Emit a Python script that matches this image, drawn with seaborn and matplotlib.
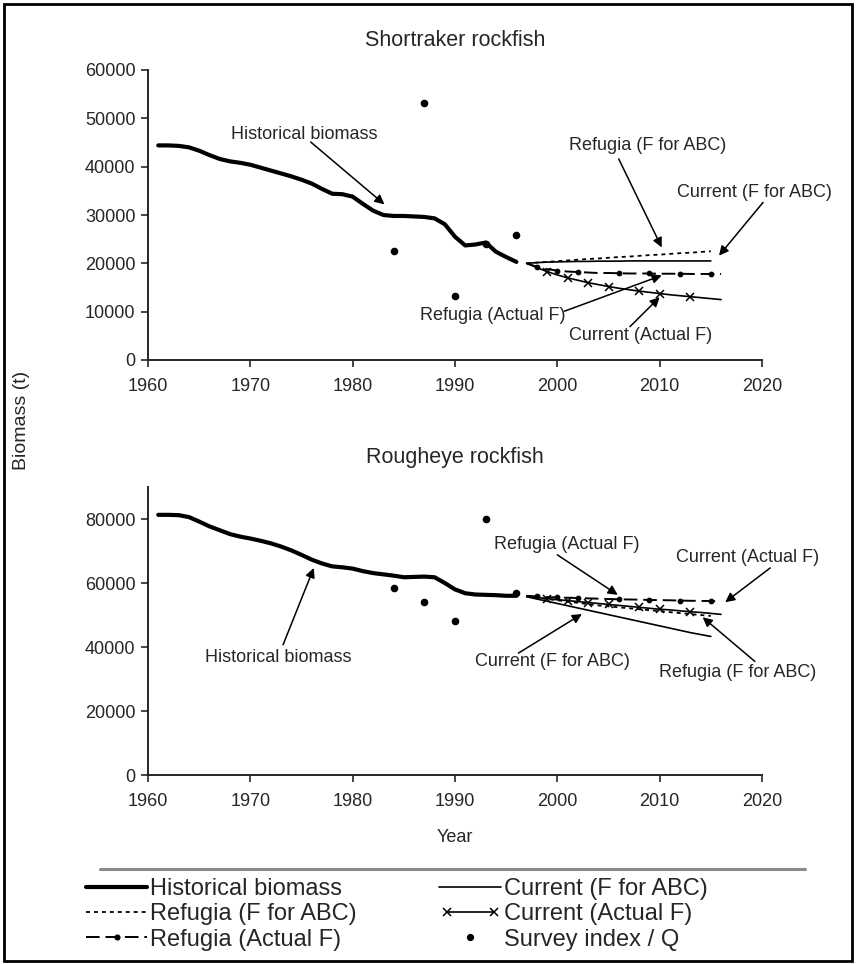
import matplotlib
matplotlib.use("Agg")
import matplotlib.pyplot as plt
import numpy as np
import pandas as pd
import seaborn as sns
from matplotlib.lines import Line2D
from matplotlib.patches import Rectangle
from matplotlib.ticker import FuncFormatter
from matplotlib.legend_handler import HandlerLine2D

# ---------------- data ----------------
hist_years = list(range(1961, 1997))
st_hist = [44400, 44400, 44300, 44000, 43300, 42400, 41600, 41100, 40800, 40400,
           39800, 39200, 38600, 38000, 37300, 36500, 35400, 34400, 34300, 33800,
           32300, 30900, 30000, 29800, 29800, 29700, 29600, 29300, 28100, 25500,
           23700, 23900, 24300, 22400, 21300, 20300]
re_hist = [81300, 81300, 81200, 80600, 79200, 77700, 76500, 75300, 74500, 73900,
           73200, 72400, 71400, 70200, 68800, 67300, 66100, 65200, 64900, 64500,
           63700, 63100, 62700, 62300, 61800, 61900, 62000, 61800, 60000, 58000,
           56800, 56400, 56300, 56200, 56000, 56000]

survey_years = [1984, 1987, 1990, 1993, 1996]
st_survey = [22500, 53200, 13300, 24100, 25800]
re_survey = [58300, 54200, 48200, 80100, 56800]

proj_years_long = list(range(1997, 2017))   # Actual F projections
proj_years_short = list(range(1997, 2016))  # F for ABC projections

st_ref_abc = [20000, 20150, 20300, 20450, 20600, 20750, 20900, 21000, 21150, 21300,
              21400, 21550, 21700, 21800, 21950, 22100, 22200, 22350, 22500]
st_cur_abc = [20000, 20150, 20250, 20300, 20350, 20400, 20400, 20450, 20450, 20450,
              20500, 20500, 20500, 20500, 20500, 20500, 20500, 20500, 20500]
st_ref_act = [20000, 19300, 18800, 18500, 18300, 18200, 18100, 18000, 18000, 17950,
              17900, 17900, 17900, 17850, 17850, 17850, 17800, 17800, 17800, 17800]
st_cur_act = [20000, 19100, 18300, 17600, 17000, 16500, 16000, 15600, 15200, 14850,
              14550, 14250, 14000, 13750, 13500, 13300, 13100, 12900, 12700, 12500]

re_ref_act = [56000, 55800, 55600, 55500, 55400, 55300, 55200, 55100, 55000, 54900,
              54850, 54800, 54700, 54650, 54600, 54500, 54450, 54400, 54350, 54300]
re_cur_act = [55900, 55500, 55100, 54800, 54500, 54200, 53900, 53600, 53300, 53000,
              52700, 52400, 52100, 51800, 51600, 51300, 51000, 50800, 50500, 50200]
re_ref_abc = [55800, 55400, 55000, 54600, 54200, 53800, 53400, 53000, 52700, 52400,
              52100, 51800, 51500, 51200, 50900, 50600, 50300, 50000, 49700]
re_cur_abc = [55700, 55000, 54300, 53600, 52900, 52200, 51500, 50800, 50100, 49400,
              48700, 48000, 47300, 46600, 45900, 45200, 44500, 43900, 43300]

x_ticks = [1960, 1970, 1980, 1990, 2000, 2010, 2020]
st_yticks = [0, 10000, 20000, 30000, 40000, 50000, 60000]
re_yticks = [0, 20000, 40000, 60000, 80000]

labels = ["Historical biomass", "Refugia (F for ABC)", "Refugia (Actual F)",
          "Current (F for ABC)", "Current (Actual F)", "Survey index / Q"]

# annotations: (text, text_xy, arrow_start, arrow_tip)
st_notes = [
    ("Historical biomass", (1975.3, 46700), (1975.9, 45100), (1983.1, 32200)),
    ("Refugia (F for ABC)", (2008.8, 44400), (2006.0, 41600), (2010.2, 23300)),
    ("Current (F for ABC)", (2019.3, 34700), (2020.1, 32600), (2015.8, 21600)),
    ("Refugia (Actual F)", (1993.7, 9200), (2000.7, 10100), (2010.2, 17500)),
    ("Current (Actual F)", (2008.1, 5100), (2007.1, 6900), (2010.0, 13000)),
]
re_notes = [
    ("Historical biomass", (1972.7, 36800), (1973.2, 40700), (1976.2, 64700)),
    ("Refugia (Actual F)", (2000.9, 71900), (2000.0, 68800), (2005.9, 56300)),
    ("Current (Actual F)", (2018.6, 68100), (2020.8, 64700), (2016.4, 54000)),
    ("Current (F for ABC)", (1999.5, 35400), (1996.2, 38100), (2002.4, 50300)),
    ("Refugia (F for ABC)", (2017.6, 32000), (2019.3, 35500), (2014.2, 49300)),
]

# ---------------- style ----------------
sns.set_theme(style="ticks")
plt.rcParams["font.family"] = ["Liberation Sans", "DejaVu Sans"]
plt.rcParams["axes.linewidth"] = 1.4

W, H = 856, 964
fig = plt.figure(figsize=(W / 100, H / 100), dpi=100)


def fx(px):
    return px / W


def fy(py):
    return 1 - py / H


ax_left, ax_right = 148, 762
ax1 = fig.add_axes([fx(ax_left), fy(360), fx(ax_right - ax_left), (360 - 70) / H])
ax2 = fig.add_axes([fx(ax_left), fy(775), fx(ax_right - ax_left), (775 - 487) / H])

x_marks = [2, 4, 6, 8, 11, 13, 16]
dot_marks = [1, 3, 5, 9, 12, 15, 18]
mk = dict(markeredgecolor="black", markerfacecolor="black")
styles = {
    "hist": dict(color="black", linewidth=3.0, linestyle="-", marker="None"),
    "ref_abc": dict(color="black", linewidth=1.3, linestyle=(0, (2.2, 2.2)), marker="None"),
    "ref_act": dict(color="black", linewidth=1.4, linestyle=(0, (7, 3)),
                    marker="o", markersize=3.4, markevery=dot_marks, **mk),
    "cur_abc": dict(color="black", linewidth=1.2, linestyle="-", marker="None"),
    "cur_act": dict(color="black", linewidth=1.2, linestyle="-", marker="x",
                    markersize=5.5, markeredgewidth=1.1, markevery=x_marks, **mk),
}


def sline(ax, x, y, style):
    n = len(ax.lines)
    sns.lineplot(x=x, y=y, ax=ax, estimator=None, sort=False, color="black")
    for ln in list(ax.lines)[n:]:
        ln.set(**style)


def draw_panel(ax, hist, survey, ref_abc, cur_abc, ref_act, cur_act, yticks, ylim, notes, title):
    sline(ax, hist_years, hist, styles["hist"])
    sline(ax, proj_years_short, ref_abc, styles["ref_abc"])
    sline(ax, proj_years_short, cur_abc, styles["cur_abc"])
    sline(ax, proj_years_long, ref_act, styles["ref_act"])
    sline(ax, proj_years_long, cur_act, styles["cur_act"])
    sns.scatterplot(x=survey_years, y=survey, ax=ax, color="black", s=30, edgecolor="black",
                    linewidth=0, zorder=5)
    ax.set_xlim(1960, 2020)
    ax.set_ylim(*ylim)
    ax.set_xticks(x_ticks)
    ax.set_yticks(yticks)
    ax.yaxis.set_major_formatter(FuncFormatter(lambda v, p: f"{int(v)}"))
    ax.tick_params(axis="both", labelsize=13, length=5, width=1.2, direction="out")
    ax.tick_params(axis="x", pad=8)
    ax.tick_params(axis="y", pad=4)
    sns.despine(ax=ax)
    ax.set_xlabel("")
    ax.set_ylabel("")
    ax.set_title(title, fontsize=15.5, pad=17)
    for txt, txy, start, tip in notes:
        ax.text(txy[0], txy[1], txt, ha="center", va="center", fontsize=13, clip_on=False)
        ax.annotate("", xy=tip, xytext=start, annotation_clip=False,
                    arrowprops=dict(arrowstyle="-|>", color="black", lw=1.1,
                                    mutation_scale=14, shrinkA=0, shrinkB=0))


draw_panel(ax1, st_hist, st_survey, st_ref_abc, st_cur_abc, st_ref_act, st_cur_act,
           st_yticks, (0, 60000), st_notes, "Shortraker rockfish")
draw_panel(ax2, re_hist, re_survey, re_ref_abc, re_cur_abc, re_ref_act, re_cur_act,
           re_yticks, (0, 90000), re_notes, "Rougheye rockfish")
ax2.set_xlabel("Year", fontsize=13, labelpad=14)

fig.text(fx(22), fy(420), "Biomass (t)", rotation=90, ha="center", va="center", fontsize=14)

# legend
h_hist = Line2D([], [], color="black", linewidth=3.0)
h_ref_abc = Line2D([], [], color="black", linewidth=1.3, linestyle=(0, (2.2, 2.2)))
h_ref_act = Line2D([], [], color="black", linewidth=1.4, linestyle=(0, (7, 3)),
                   marker="o", markersize=3.4, **mk)
h_cur_abc = Line2D([], [], color="black", linewidth=1.2)
h_cur_act = Line2D([], [], color="black", linewidth=1.2, marker="x", markersize=5.5,
                   markeredgewidth=1.1, **mk)
h_survey = Line2D([], [], color="black", linestyle="none", marker="o", markersize=4.2, **mk)
handles = [h_hist, h_ref_abc, h_ref_act, h_cur_abc, h_cur_act, h_survey]
leg = fig.legend(handles, labels, ncol=2, loc="upper left",
                 bbox_to_anchor=(fx(86), fy(878)), frameon=False, fontsize=17,
                 handlelength=2.6, handletextpad=0.12, columnspacing=3.5,
                 labelspacing=0.14, borderaxespad=0, borderpad=0,
                 handler_map={h_ref_act: HandlerLine2D(numpoints=1),
                              h_survey: HandlerLine2D(numpoints=1),
                              h_cur_act: HandlerLine2D(numpoints=2)})

# separator line and border
fig.add_artist(Line2D([fx(100), fx(805)], [fy(869), fy(869)], color="#8a8a8a", lw=2.2))
fig.add_artist(Rectangle((fx(4), fy(961)), fx(852 - 4), (961 - 4) / H, transform=fig.transFigure,
                         fill=False, edgecolor="black", lw=2))

fig.savefig("out.png", dpi=100)
